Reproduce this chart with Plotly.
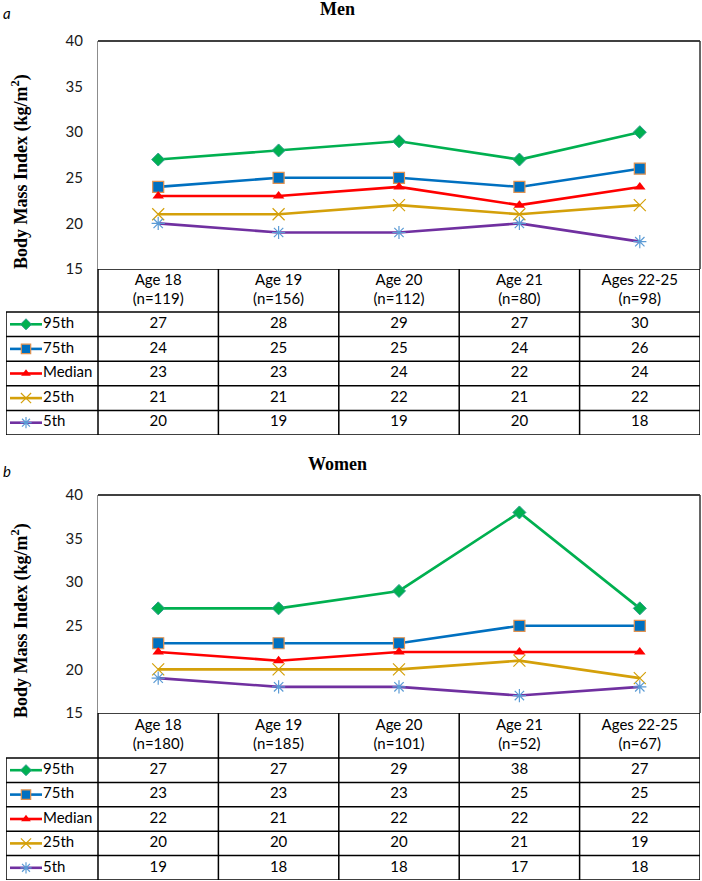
import plotly.graph_objects as go

# ---------------- data ----------------
categories = ["Age 18", "Age 19", "Age 20", "Age 21", "Ages 22-25"]
men_n = [119, 156, 112, 80, 98]
women_n = [180, 185, 101, 52, 67]
series_names = ["95th", "75th", "Median", "25th", "5th"]

men_p95 = [27, 28, 29, 27, 30]
men_p75 = [24, 25, 25, 24, 26]
men_median = [23, 23, 24, 22, 24]
men_p25 = [21, 21, 22, 21, 22]
men_p5 = [20, 19, 19, 20, 18]

women_p95 = [27, 27, 29, 38, 27]
women_p75 = [23, 23, 23, 25, 25]
women_median = [22, 21, 22, 22, 22]
women_p25 = [20, 20, 20, 21, 19]
women_p5 = [19, 18, 18, 17, 18]

y_ticks = [15, 20, 25, 30, 35, 40]

# ---------------- styles ----------------
STYLES = [
    dict(line="#00B050", symbol="diamond", mcolor="#00B050", mline="#2E9E8E", mlw=1, size=10),
    dict(line="#0070C0", symbol="square", mcolor="#0070C0", mline="#E0914F", mlw=1.2, size=11),
    dict(line="#FF0000", symbol="triangle-up", mcolor="#FF0000", mline="#FF0000", mlw=0, size=10),
    dict(line="#D4A00A", symbol="x-thin", mcolor="#D4A00A", mline="#D4A00A", mlw=1.2, size=12),
    dict(line="#7030A0", symbol="asterisk", mcolor="#5B9BD5", mline="#5B9BD5", mlw=1.2, size=11),
]

W, H = 702, 881
X_PLOT_L, X_R, X_LEG = 98, 700, 6
COLW = (X_R - X_PLOT_L) / 5.0
LEG = (X_PLOT_L - X_LEG) / COLW

TICK_FONT = dict(family="Lato", size=15, color="#1a1a1a")
TABLE_FONT = dict(family="Lato", size=15, color="black")


def py(p):
    return 1 - p / H


fig = go.Figure()
layout = dict(
    width=W, height=H, margin=dict(l=0, r=0, t=0, b=0),
    paper_bgcolor="white", plot_bgcolor="white", showlegend=False,
    hovermode=False,
)
shapes = []
annotations = []

panels = [
    dict(letter="a", title="Men", n=men_n,
         series=[men_p95, men_p75, men_median, men_p25, men_p5],
         top=41, pbot=269, hbot=312, tbot=435, ax=("", "2"),
         title_y=9, letter_y=13, ytitle_y=172),
    dict(letter="b", title="Women", n=women_n,
         series=[women_p95, women_p75, women_median, women_p25, women_p5],
         top=495, pbot=713, hbot=758, tbot=880, ax=("3", "4"),
         title_y=464, letter_y=471, ytitle_y=621),
]

xs = list(range(len(categories)))

for p in panels:
    ca, ta = p["ax"]
    cx, cy = "x" + ca, "y" + ca
    tx, ty = "x" + ta, "y" + ta
    rowh = (p["tbot"] - p["hbot"]) / 5.0
    hdr = (p["hbot"] - p["pbot"]) / rowh
    nrows = len(series_names)

    # chart axes
    layout["xaxis" + ca] = dict(domain=[X_PLOT_L / W, X_R / W], range=[-0.5, 4.5],
                                visible=False, anchor=cy)
    layout["yaxis" + ca] = dict(domain=[py(p["pbot"]), py(p["top"])], range=[15, 40],
                                tickvals=y_ticks, showline=True, linecolor="#8c8c8c",
                                linewidth=1, showgrid=False, zeroline=False,
                                ticks="outside", ticklen=11, tickcolor="rgba(0,0,0,0)",
                                tickfont=TICK_FONT, anchor=cx, automargin=False)
    # table axes
    layout["xaxis" + ta] = dict(domain=[X_LEG / W, X_R / W], range=[-0.5 - LEG, 4.5],
                                visible=False, anchor=ty)
    layout["yaxis" + ta] = dict(domain=[py(p["tbot"]), py(p["pbot"])], range=[nrows, -hdr],
                                visible=False, anchor=tx)

    # lines
    for name, vals, st in zip(series_names, p["series"], STYLES):
        fig.add_trace(go.Scatter(
            x=xs, y=vals, mode="lines+markers", name=name, xaxis=cx, yaxis=cy,
            line=dict(color=st["line"], width=2.6),
            marker=dict(symbol=st["symbol"], color=st["mcolor"], size=st["size"],
                        line=dict(color=st["mline"], width=st["mlw"])),
            cliponaxis=False,
        ))

    # chart border (top & right)
    domx = "x" + ca + " domain" if ca else "x domain"
    domy = "y" + ca + " domain" if ca else "y domain"
    shapes.append(dict(type="line", xref=domx, yref=domy, x0=0, x1=1, y0=1, y1=1,
                       line=dict(color="black", width=1.5)))
    shapes.append(dict(type="line", xref=domx, yref=domy, x0=1, x1=1, y0=0, y1=1,
                       line=dict(color="#333", width=1.5)))

    # table grid
    grid = dict(color="black", width=1.5)
    shapes.append(dict(type="line", xref=tx, yref=ty, x0=-0.5, x1=4.5, y0=-hdr, y1=-hdr, line=grid))
    for k in range(nrows + 1):
        shapes.append(dict(type="line", xref=tx, yref=ty, x0=-0.5 - LEG, x1=4.5, y0=k, y1=k, line=grid))
    for k in range(len(categories) + 1):
        shapes.append(dict(type="line", xref=tx, yref=ty, x0=-0.5 + k, x1=-0.5 + k,
                           y0=-hdr, y1=nrows, line=grid))
    shapes.append(dict(type="line", xref=tx, yref=ty, x0=-0.5 - LEG, x1=-0.5 - LEG,
                       y0=0, y1=nrows, line=grid))

    # header text
    hdr_text = [f"{c}<br>(n={n})" for c, n in zip(categories, p["n"])]
    fig.add_trace(go.Scatter(x=xs, y=[-hdr / 2] * len(xs), mode="text", text=hdr_text,
                             textfont=TABLE_FONT, xaxis=tx, yaxis=ty, cliponaxis=False))
    # values
    for r, vals in enumerate(p["series"]):
        fig.add_trace(go.Scatter(x=xs, y=[r + 0.5] * len(xs), mode="text",
                                 text=[str(v) for v in vals], textfont=TABLE_FONT,
                                 xaxis=tx, yaxis=ty, cliponaxis=False))
    # legend column
    lx0 = -0.5 - (X_PLOT_L - 10) / COLW
    lx1 = -0.5 - (X_PLOT_L - 42) / COLW
    lxm = (lx0 + lx1) / 2
    ltext = -0.5 - (X_PLOT_L - 43) / COLW
    for r, (name, st) in enumerate(zip(series_names, STYLES)):
        fig.add_trace(go.Scatter(x=[lx0, lx1], y=[r + 0.5, r + 0.5], mode="lines",
                                 line=dict(color=st["line"], width=2.6),
                                 xaxis=tx, yaxis=ty, cliponaxis=False))
        fig.add_trace(go.Scatter(x=[lxm], y=[r + 0.5], mode="markers",
                                 marker=dict(symbol=st["symbol"], color=st["mcolor"],
                                             size=st["size"] * 0.85,
                                             line=dict(color=st["mline"], width=st["mlw"])),
                                 xaxis=tx, yaxis=ty, cliponaxis=False))
        fig.add_trace(go.Scatter(x=[ltext], y=[r + 0.5], mode="text", text=[name],
                                 textposition="middle right", textfont=TABLE_FONT,
                                 xaxis=tx, yaxis=ty, cliponaxis=False))

    # titles
    annotations.append(dict(xref="paper", yref="paper", x=337 / W, y=py(p["title_y"]),
                            text=f"<b>{p['title']}</b>", showarrow=False,
                            font=dict(family="Liberation Serif", size=18, color="black"),
                            xanchor="center", yanchor="middle"))
    annotations.append(dict(xref="paper", yref="paper", x=7 / W, y=py(p["letter_y"]),
                            text=f"<i>{p['letter']}</i>", showarrow=False,
                            font=dict(family="Lato", size=15, color="black"),
                            xanchor="center", yanchor="middle"))
    annotations.append(dict(xref="paper", yref="paper", x=20 / W, y=py(p["ytitle_y"]),
                            text="<b>Body Mass Index (kg/m<sup>2</sup>)</b>", showarrow=False,
                            textangle=-90,
                            font=dict(family="Liberation Serif", size=18, color="black"),
                            xanchor="center", yanchor="middle"))

layout["shapes"] = shapes
layout["annotations"] = annotations
fig.update_layout(**layout)
fig.write_html("out.html", config={"displayModeBar": False},
               post_script="document.body.style.margin='0';document.body.style.overflow='hidden';")
